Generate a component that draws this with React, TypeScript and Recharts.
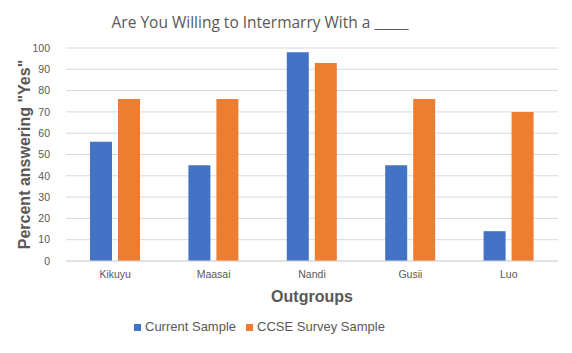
import { BarChart, Bar, XAxis, YAxis, CartesianGrid, Legend } from 'recharts';

const outgroups = ['Kikuyu', 'Maasai', 'Nandi', 'Gusii', 'Luo'];
const currentSample = [56, 45, 98, 45, 14];
const ccseSample = [76, 76, 93, 76, 70];
const yTicks = [0, 10, 20, 30, 40, 50, 60, 70, 80, 90, 100];

const data = outgroups.map((name, i) => ({
  name,
  current: currentSample[i],
  ccse: ccseSample[i],
}));

const TEXT = '#595959';
const FONT = '"Liberation Sans", Arial, sans-serif';
const TICK_STYLE = { fill: TEXT, fontSize: 10.5, fontFamily: FONT };

export default function App() {
  return (
    <div style={{ position: 'absolute', left: 0, top: 0, width: 572, height: 353, background: '#fff' }}>
      <div
        style={{
          position: 'absolute', left: 0, top: 11, width: 520, textAlign: 'center',
          fontFamily: '"Open Sans", sans-serif', fontSize: 15.5, color: TEXT, lineHeight: '22px',
        }}
      >
        Are You Willing to Intermarry With a _____
      </div>
      <BarChart
        width={572}
        height={353}
        data={data}
        margin={{ top: 48, right: 14, bottom: 47, left: 0 }}
        barSize={22}
        barGap={6}
      >
        <CartesianGrid vertical={false} stroke="#d9d9d9" />
        <XAxis
          dataKey="name"
          height={30}
          tick={TICK_STYLE}
          tickLine={false}
          tickSize={0}
          tickMargin={10}
          stroke="#d9d9d9"
          label={{ value: 'Outgroups', position: 'bottom', offset: 0, style: { fill: TEXT, fontSize: 16, fontWeight: 'bold', fontFamily: FONT } }}
        />
        <YAxis
          width={66}
          domain={[0, 100]}
          ticks={yTicks}
          interval={0}
          tick={TICK_STYLE}
          tickLine={false}
          axisLine={false}
          tickSize={0}
          tickMargin={16}
          label={{ value: 'Percent answering "Yes"', angle: -90, position: 'insideLeft', offset: 24, style: { textAnchor: 'middle', fill: TEXT, fontSize: 16, fontWeight: 'bold', fontFamily: FONT } }}
        />
        <Legend
          iconType="square"
          iconSize={7}
          align="left"
          itemSorter={null}
          wrapperStyle={{ top: 319, left: 134, width: 300, fontFamily: FONT, fontSize: 13 }}
          formatter={(value) => <span style={{ color: TEXT }}>{value}</span>}
        />
        <Bar dataKey="current" name="Current Sample" fill="#4472C4" isAnimationActive={false} />
        <Bar dataKey="ccse" name="CCSE Survey Sample" fill="#ED7D31" isAnimationActive={false} />
      </BarChart>
    </div>
  );
}
